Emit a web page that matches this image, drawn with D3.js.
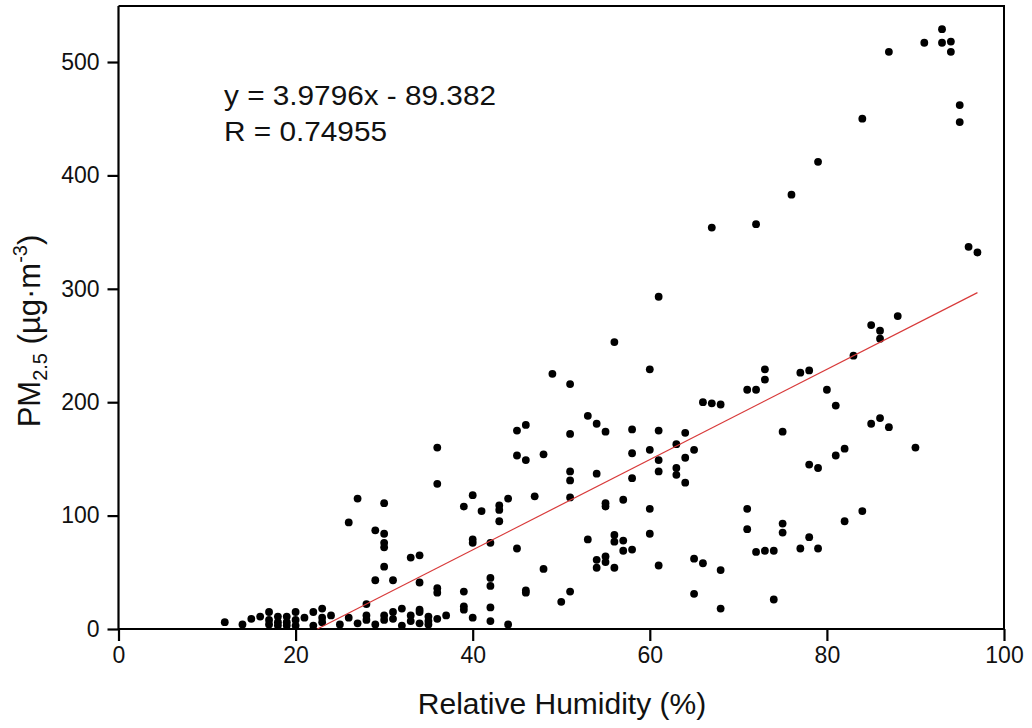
<!DOCTYPE html>
<html>
<head>
<meta charset="utf-8">
<script src="https://cdn.jsdelivr.net/npm/d3@7"></script>
<style>
  html, body { margin: 0; padding: 0; background: #fff; }
  svg { display: block; font-family: "Liberation Sans", Arial, sans-serif; }
</style>
</head>
<body>
<svg id="chart" width="1032" height="728"></svg>
<script>
// Relative humidity (%) of each sample
const rh = [
  12,14,15,16,
  17,17,17, 18,18,18, 19,19,19, 20,20,20, 21, 22,22, 23,23,23, 24, 25,
  26,26, 27,27, 28,28,28, 29,29,29,
  30,30,30,30,30,30,30, 31,31,31, 32,32, 33,33,33, 34,34,34,34,34,
  35,35,35, 36,36,36,36,36, 37,
  39,39,39,39, 40,40,40,40, 41, 42,42,42,42,42, 43,43,43, 44,44,
  45,45,45, 46,46,46,46, 47, 48,48, 49, 50,
  51,51,51,51,51,51, 53,53, 54,54,54,54, 55,55,55,55,55, 56,56,56,56,
  57,57,57, 58,58,58,58, 60,60,60,60, 61,61,61,61,61,
  63,63,63, 64,64,64, 65,65,65, 66,66, 67,67, 68,68,68,
  71,71,71, 72,72,72, 73,73,73, 74,74, 75,75,75, 76, 77,77, 78,78,78,
  79,79,79, 80, 81,81, 82,82, 83, 84,84, 85,85, 86,86,86, 87,87, 88, 90,
  91, 93,93, 94,94, 95,95, 96, 97
];
// PM2.5 (µg·m-3) of each sample, same order as rh
const pm = [
  6,4,9,11,
  15,8,4, 11,6,3, 11,6,3, 15,8,3, 10, 15,3, 18,10,6, 12, 4,
  94,10, 115,5, 22,12,8, 87,43,4,
  111,84,76,72,55,12,8, 43,15,9, 18,3, 63,12,7, 65,41,17,15,5,
  11,7,4, 160,128,36,32,9, 12,
  108,33,20,17, 118,79,76,10, 104, 76,45,38,19,7, 109,105,95, 115,4,
  175,153,71, 180,149,34,32, 117, 154,53, 225, 24,
  216,172,139,131,116,33, 188,79, 181,137,61,54, 174,111,108,64,59, 253,83,77,54,
  114,78,69, 176,155,133,70, 229,158,106,84, 293,175,149,139,56,
  163,142,136, 173,151,129, 158,62,31, 200,58, 354,199, 198,52,18,
  211,106,88, 357,211,68, 229,220,69, 69,26, 174,93,85, 383, 226,71, 228,145,81,
  412,142,71, 211, 197,153, 159,95, 241, 450,104, 268,181, 263,256,186, 509,178, 276, 160,
  517, 529,517, 518,509, 462,447, 337, 332
];
// Linear fit reported on the chart
const fitSlope = 3.9796;
const fitIntercept = -89.382;
const fitR = 0.74955;
const fitXEnd = 97;
const xTicks = [0, 20, 40, 60, 80, 100];
const yTicks = [0, 100, 200, 300, 400, 500];

(function () {
const svg = d3.select("#chart");
const mL = 118.5, mR = 1004, mT = 6, mB = 629;
const x = d3.scaleLinear().domain([0, 100]).range([mL, mR]);
const y = d3.scaleLinear().domain([0, 549.4]).range([mB, mT]);

// frame (top & right)
svg.append("path")
  .attr("d", `M${mL},${mT}H${mR}V${mB}`)
  .attr("fill", "none").attr("stroke", "#000").attr("stroke-width", 2);

// axes
const xAxis = d3.axisBottom(x).tickValues(xTicks).tickSize(12).tickPadding(6).tickFormat(d3.format("d"));
const yAxis = d3.axisLeft(y).tickValues(yTicks).tickSize(11).tickPadding(8).tickFormat(d3.format("d"));

const gx = svg.append("g").attr("transform", `translate(0,${mB})`).call(xAxis);
const gy = svg.append("g").attr("transform", `translate(${mL},0)`).call(yAxis);
[gx, gy].forEach(g => {
  g.select(".domain").attr("stroke", "#000").attr("stroke-width", 2.2);
  g.selectAll(".tick line").attr("stroke", "#000").attr("stroke-width", 2.2);
  g.selectAll(".tick text").attr("fill", "#111").style("font-size", "23px")
    .style("font-family", "Liberation Sans, Arial, sans-serif");
});
gx.select(".domain").attr("d", `M${mL},0H${mR}`);
gy.select(".domain").attr("d", `M0,${mT}V${mB}`);

// points
const pts = rh.map((v, i) => ({ rh: v, pm: pm[i] }));
svg.append("g").selectAll("circle").data(pts).join("circle")
  .attr("cx", d => x(d.rh)).attr("cy", d => y(d.pm)).attr("r", 3.9).attr("fill", "#000");

// fit line from y=0 crossing to end
const x0 = -fitIntercept / fitSlope;
svg.append("line")
  .attr("x1", x(x0)).attr("y1", y(0))
  .attr("x2", x(fitXEnd)).attr("y2", y(fitSlope * fitXEnd + fitIntercept))
  .attr("stroke", "#d83a3a").attr("stroke-width", 1.2);

// equation text
svg.append("text").attr("x", 224).attr("y", 105)
  .style("font-size", "27px").attr("textLength", 272).attr("lengthAdjust", "spacingAndGlyphs")
  .attr("fill", "#111")
  .text(`y = ${fitSlope}x - ${Math.abs(fitIntercept)}`);
svg.append("text").attr("x", 224).attr("y", 141)
  .style("font-size", "27px").attr("textLength", 163).attr("lengthAdjust", "spacingAndGlyphs")
  .attr("fill", "#111")
  .text(`R = ${fitR}`);

// axis titles
svg.append("text").attr("x", 562).attr("y", 714)
  .attr("text-anchor", "middle").style("font-size", "30px").attr("fill", "#111")
  .text("Relative Humidity (%)");

const yl = svg.append("text")
  .attr("transform", "translate(40,331) rotate(-90)")
  .attr("text-anchor", "middle").style("font-size", "31px").attr("fill", "#111");
yl.append("tspan").text("PM");
yl.append("tspan").attr("dy", 7).style("font-size", "20px").text("2.5");
yl.append("tspan").attr("dy", -7).text(" (µg·m");
yl.append("tspan").attr("dy", -13).style("font-size", "20px").text("-3");
yl.append("tspan").attr("dy", 13).text(")");
})();
</script>
</body>
</html>
